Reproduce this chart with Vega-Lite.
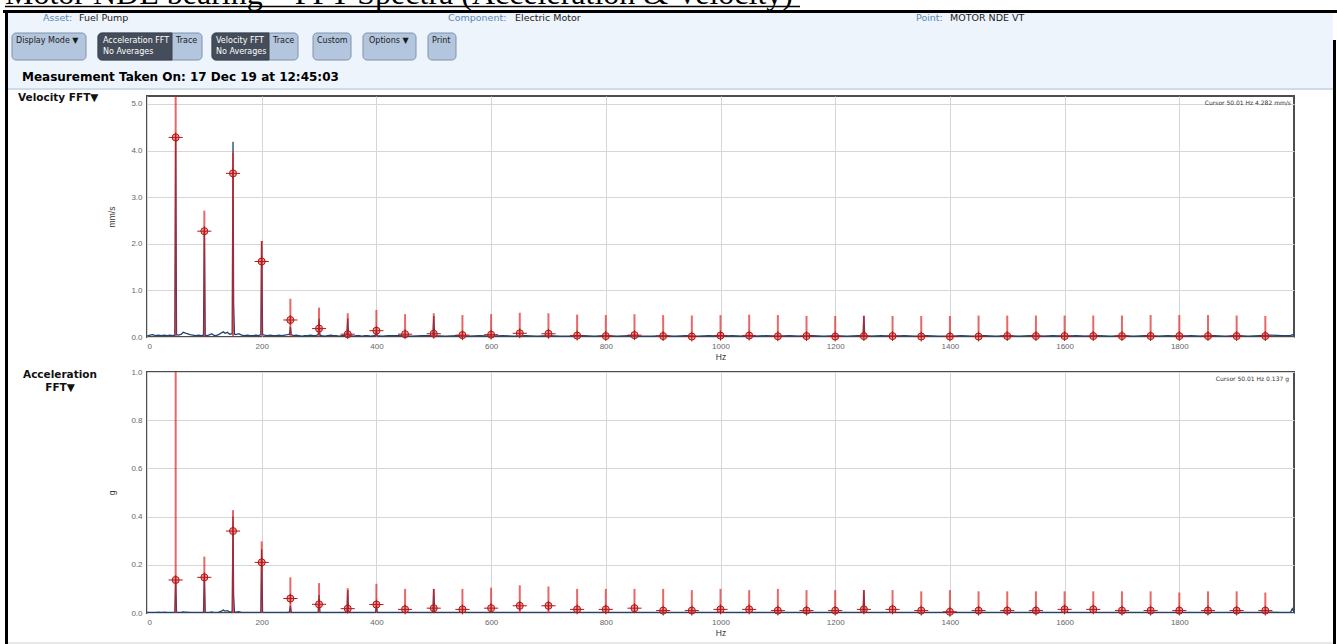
{
  "$schema": "https://vega.github.io/schema/vega-lite/v6.json",
  "autosize": {"type": "none"},
  "padding": {"left": 147, "top": 12, "right": 1190, "bottom": 632},
  "background": "white",
  "spacing": 35,
  "bounds": "flush",
  "datasets": {
    "spec": [
      {"f":0,"vel":0.02,"acc":0.002},{"f":5,"vel":0.04,"acc":0.003},{"f":10,"vel":0.05,"acc":0.003},{"f":15,"vel":0.03,"acc":0.002},{"f":20,"vel":0.04,"acc":0.003},{"f":25,"vel":0.03,"acc":0.002},{"f":30,"vel":0.04,"acc":0.003},{"f":35,"vel":0.03,"acc":0.002},{"f":40,"vel":0.04,"acc":0.003},{"f":45,"vel":0.03,"acc":0.003},{"f":48.5,"vel":0.04,"acc":0.004},{"f":50,"vel":4.282,"acc":0.137},{"f":51.5,"vel":0.05,"acc":0.004},{"f":55,"vel":0.04,"acc":0.003},{"f":60,"vel":0.06,"acc":0.004},{"f":63,"vel":0.1,"acc":0.005},{"f":66,"vel":0.09,"acc":0.004},{"f":70,"vel":0.07,"acc":0.004},{"f":75,"vel":0.05,"acc":0.003},{"f":80,"vel":0.04,"acc":0.003},{"f":85,"vel":0.03,"acc":0.002},{"f":90,"vel":0.04,"acc":0.003},{"f":95,"vel":0.03,"acc":0.003},{"f":98.5,"vel":0.04,"acc":0.003},{"f":100,"vel":2.27,"acc":0.148},{"f":101.5,"vel":0.04,"acc":0.003},{"f":105,"vel":0.03,"acc":0.003},{"f":110,"vel":0.05,"acc":0.004},{"f":113,"vel":0.07,"acc":0.005},{"f":116,"vel":0.04,"acc":0.003},{"f":120,"vel":0.03,"acc":0.003},{"f":125,"vel":0.05,"acc":0.004},{"f":130,"vel":0.09,"acc":0.008},{"f":133,"vel":0.11,"acc":0.012},{"f":136,"vel":0.08,"acc":0.008},{"f":140,"vel":0.1,"acc":0.01},{"f":144,"vel":0.06,"acc":0.005},{"f":148.5,"vel":0.07,"acc":0.006},{"f":150,"vel":4.19,"acc":0.4},{"f":151,"vel":0.75,"acc":0.075},{"f":152.5,"vel":0.06,"acc":0.005},{"f":155,"vel":0.05,"acc":0.004},{"f":160,"vel":0.07,"acc":0.006},{"f":165,"vel":0.04,"acc":0.003},{"f":170,"vel":0.03,"acc":0.003},{"f":175,"vel":0.04,"acc":0.003},{"f":180,"vel":0.03,"acc":0.002},{"f":185,"vel":0.03,"acc":0.003},{"f":190,"vel":0.04,"acc":0.003},{"f":195,"vel":0.03,"acc":0.003},{"f":198.5,"vel":0.05,"acc":0.004},{"f":200,"vel":2.06,"acc":0.265},{"f":201.5,"vel":0.05,"acc":0.004},{"f":205,"vel":0.04,"acc":0.003},{"f":210,"vel":0.03,"acc":0.003},{"f":215,"vel":0.04,"acc":0.003},{"f":220,"vel":0.03,"acc":0.002},{"f":225,"vel":0.03,"acc":0.003},{"f":230,"vel":0.04,"acc":0.003},{"f":235,"vel":0.03,"acc":0.003},{"f":240,"vel":0.04,"acc":0.003},{"f":245,"vel":0.05,"acc":0.004},{"f":248.5,"vel":0.06,"acc":0.005},{"f":250,"vel":0.22,"acc":0.03},{"f":251.5,"vel":0.05,"acc":0.004},{"f":255,"vel":0.03,"acc":0.003},{"f":260,"vel":0.04,"acc":0.003},{"f":265,"vel":0.03,"acc":0.003},{"f":270,"vel":0.02,"acc":0.002},{"f":275,"vel":0.03,"acc":0.003},{"f":280,"vel":0.03,"acc":0.003},{"f":285,"vel":0.04,"acc":0.003},{"f":290,"vel":0.03,"acc":0.003},{"f":295,"vel":0.03,"acc":0.003},{"f":298.5,"vel":0.05,"acc":0.004},{"f":300,"vel":0.39,"acc":0.075},{"f":301.5,"vel":0.04,"acc":0.004},{"f":305,"vel":0.03,"acc":0.003},{"f":310,"vel":0.02,"acc":0.002},{"f":315,"vel":0.03,"acc":0.003},{"f":320,"vel":0.04,"acc":0.003},{"f":325,"vel":0.03,"acc":0.002},{"f":330,"vel":0.03,"acc":0.003},{"f":335,"vel":0.02,"acc":0.003},{"f":340,"vel":0.03,"acc":0.003},{"f":345,"vel":0.03,"acc":0.003},{"f":348.5,"vel":0.05,"acc":0.004},{"f":350,"vel":0.4,"acc":0.095},{"f":351.5,"vel":0.04,"acc":0.004},{"f":355,"vel":0.03,"acc":0.003},{"f":360,"vel":0.02,"acc":0.002},{"f":365,"vel":0.03,"acc":0.003},{"f":370,"vel":0.03,"acc":0.003},{"f":375,"vel":0.02,"acc":0.002},{"f":380,"vel":0.03,"acc":0.003},{"f":385,"vel":0.03,"acc":0.003},{"f":390,"vel":0.02,"acc":0.002},{"f":395,"vel":0.03,"acc":0.003},{"f":398.5,"vel":0.04,"acc":0.004},{"f":400,"vel":0.13,"acc":0.03},{"f":401.5,"vel":0.03,"acc":0.003},{"f":410,"vel":0.02,"acc":0.002},{"f":420,"vel":0.03,"acc":0.003},
      {"f":440,"vel":0.03,"acc":0.003},{"f":460,"vel":0.02,"acc":0.002},{"f":480,"vel":0.03,"acc":0.003},{"f":498.5,"vel":0.03,"acc":0.003},{"f":500,"vel":0.45,"acc":0.1},{"f":501.5,"vel":0.03,"acc":0.003},{"f":520,"vel":0.02,"acc":0.002},{"f":540,"vel":0.03,"acc":0.003},{"f":560,"vel":0.02,"acc":0.003},{"f":580,"vel":0.03,"acc":0.002},{"f":600,"vel":0.02,"acc":0.003},{"f":620,"vel":0.03,"acc":0.003},{"f":640,"vel":0.02,"acc":0.002},{"f":660,"vel":0.03,"acc":0.003},{"f":680,"vel":0.02,"acc":0.003},{"f":700,"vel":0.03,"acc":0.002},{"f":720,"vel":0.02,"acc":0.003},{"f":740,"vel":0.02,"acc":0.003},{"f":760,"vel":0.03,"acc":0.002},{"f":780,"vel":0.02,"acc":0.003},{"f":800,"vel":0.03,"acc":0.003},{"f":820,"vel":0.02,"acc":0.002},{"f":840,"vel":0.03,"acc":0.003},{"f":860,"vel":0.02,"acc":0.003},{"f":880,"vel":0.02,"acc":0.002},{"f":900,"vel":0.03,"acc":0.003},{"f":920,"vel":0.02,"acc":0.003},{"f":940,"vel":0.03,"acc":0.002},{"f":960,"vel":0.02,"acc":0.003},{"f":980,"vel":0.03,"acc":0.003},{"f":1000,"vel":0.02,"acc":0.002},{"f":1020,"vel":0.03,"acc":0.003},{"f":1040,"vel":0.02,"acc":0.003},{"f":1060,"vel":0.02,"acc":0.002},{"f":1080,"vel":0.03,"acc":0.003},{"f":1100,"vel":0.02,"acc":0.003},{"f":1120,"vel":0.03,"acc":0.002},{"f":1140,"vel":0.02,"acc":0.003},{"f":1160,"vel":0.03,"acc":0.003},{"f":1180,"vel":0.02,"acc":0.002},{"f":1200,"vel":0.03,"acc":0.003},{"f":1220,"vel":0.02,"acc":0.003},{"f":1240,"vel":0.03,"acc":0.002},{"f":1248.5,"vel":0.03,"acc":0.003},{"f":1250,"vel":0.45,"acc":0.095},{"f":1251.5,"vel":0.03,"acc":0.003},{"f":1260,"vel":0.02,"acc":0.003},{"f":1280,"vel":0.03,"acc":0.002},{"f":1300,"vel":0.02,"acc":0.003},{"f":1320,"vel":0.03,"acc":0.003},{"f":1340,"vel":0.02,"acc":0.002},{"f":1360,"vel":0.03,"acc":0.003},{"f":1380,"vel":0.02,"acc":0.003},{"f":1400,"vel":0.02,"acc":0.002},{"f":1420,"vel":0.03,"acc":0.003},{"f":1440,"vel":0.02,"acc":0.003},{"f":1460,"vel":0.03,"acc":0.002},{"f":1480,"vel":0.02,"acc":0.003},{"f":1500,"vel":0.03,"acc":0.003},{"f":1520,"vel":0.02,"acc":0.002},{"f":1540,"vel":0.03,"acc":0.003},{"f":1560,"vel":0.02,"acc":0.003},{"f":1580,"vel":0.03,"acc":0.002},{"f":1600,"vel":0.02,"acc":0.003},{"f":1620,"vel":0.03,"acc":0.003},{"f":1640,"vel":0.02,"acc":0.002},{"f":1660,"vel":0.03,"acc":0.003},{"f":1680,"vel":0.02,"acc":0.003},{"f":1700,"vel":0.03,"acc":0.002},{"f":1720,"vel":0.02,"acc":0.003},{"f":1740,"vel":0.03,"acc":0.003},{"f":1760,"vel":0.02,"acc":0.002},{"f":1780,"vel":0.03,"acc":0.003},{"f":1800,"vel":0.02,"acc":0.003},{"f":1820,"vel":0.03,"acc":0.002},{"f":1840,"vel":0.02,"acc":0.003},{"f":1860,"vel":0.03,"acc":0.003},{"f":1880,"vel":0.02,"acc":0.002},{"f":1900,"vel":0.03,"acc":0.003},{"f":1920,"vel":0.02,"acc":0.003},{"f":1940,"vel":0.03,"acc":0.002},{"f":1960,"vel":0.04,"acc":0.004},{"f":1980,"vel":0.03,"acc":0.003},{"f":1994,"vel":0.03,"acc":0.003},{"f":1997,"vel":0.05,"acc":0.018},{"f":2000,"vel":0.03,"acc":0.003}
    ],
    "harm": [
      {"f":50,"vt":5.6,"vm":4.282,"at":1.2,"am":0.137},
      {"f":100,"vt":2.71,"vm":2.27,"at":0.234,"am":0.148},
      {"f":150,"vt":3.95,"vm":3.51,"at":0.427,"am":0.34},
      {"f":200,"vt":2.06,"vm":1.62,"at":0.297,"am":0.21},
      {"f":250,"vt":0.82,"vm":0.365,"at":0.148,"am":0.06},
      {"f":300,"vt":0.63,"vm":0.18,"at":0.124,"am":0.036},
      {"f":350,"vt":0.51,"vm":0.06,"at":0.103,"am":0.018},
      {"f":400,"vt":0.58,"vm":0.135,"at":0.121,"am":0.035},
      {"f":450,"vt":0.49,"vm":0.06,"at":0.1,"am":0.015},
      {"f":500,"vt":0.51,"vm":0.07,"at":0.1,"am":0.02},
      {"f":550,"vt":0.47,"vm":0.04,"at":0.1,"am":0.015},
      {"f":600,"vt":0.49,"vm":0.05,"at":0.105,"am":0.02},
      {"f":650,"vt":0.52,"vm":0.08,"at":0.115,"am":0.03},
      {"f":700,"vt":0.51,"vm":0.07,"at":0.11,"am":0.03},
      {"f":750,"vt":0.48,"vm":0.03,"at":0.1,"am":0.015},
      {"f":800,"vt":0.47,"vm":0.02,"at":0.1,"am":0.015},
      {"f":850,"vt":0.49,"vm":0.04,"at":0.1,"am":0.02},
      {"f":900,"vt":0.47,"vm":0.02,"at":0.1,"am":0.01},
      {"f":950,"vt":0.46,"vm":0.01,"at":0.095,"am":0.01},
      {"f":1000,"vt":0.47,"vm":0.03,"at":0.1,"am":0.015},
      {"f":1050,"vt":0.48,"vm":0.03,"at":0.095,"am":0.015},
      {"f":1100,"vt":0.47,"vm":0.015,"at":0.1,"am":0.01},
      {"f":1150,"vt":0.45,"vm":0.02,"at":0.095,"am":0.01},
      {"f":1200,"vt":0.45,"vm":0.01,"at":0.095,"am":0.01},
      {"f":1250,"vt":0.46,"vm":0.02,"at":0.095,"am":0.015},
      {"f":1300,"vt":0.45,"vm":0.02,"at":0.095,"am":0.015},
      {"f":1350,"vt":0.45,"vm":0.01,"at":0.09,"am":0.01},
      {"f":1400,"vt":0.45,"vm":0.01,"at":0.095,"am":0.005},
      {"f":1450,"vt":0.46,"vm":0.01,"at":0.09,"am":0.01},
      {"f":1500,"vt":0.46,"vm":0.02,"at":0.09,"am":0.01},
      {"f":1550,"vt":0.46,"vm":0.02,"at":0.09,"am":0.01},
      {"f":1600,"vt":0.46,"vm":0.02,"at":0.09,"am":0.015},
      {"f":1650,"vt":0.46,"vm":0.02,"at":0.09,"am":0.015},
      {"f":1700,"vt":0.46,"vm":0.02,"at":0.09,"am":0.01},
      {"f":1750,"vt":0.47,"vm":0.02,"at":0.09,"am":0.01},
      {"f":1800,"vt":0.47,"vm":0.02,"at":0.085,"am":0.01},
      {"f":1850,"vt":0.47,"vm":0.02,"at":0.09,"am":0.01},
      {"f":1900,"vt":0.46,"vm":0.02,"at":0.09,"am":0.01},
      {"f":1950,"vt":0.45,"vm":0.02,"at":0.085,"am":0.01}
    ]
  },
  "vconcat": [
    {
      "width": 1186,
      "height": 49,
      "view": {"stroke": null},
      "data": {"values": [{}]},
      "layer": [
        {"mark": {"type": "rect", "fill": "#edf4fc"}, "encoding": {"x": {"datum": -3, "type": "quantitative", "scale": {"domain": [136, 1322], "nice": false, "zero": false}, "axis": null}, "x2": {"datum": 1322}, "y": {"datum": 0, "type": "quantitative", "scale": {"domain": [0, 49], "nice": false, "zero": false, "reverse": true}, "axis": null}, "y2": {"datum": 76}}},
        {"mark": {"type": "rule", "color": "#cddcea", "strokeWidth": 2}, "encoding": {"x": {"datum": -3, "type": "quantitative", "axis": null}, "x2": {"datum": 1322}, "y": {"datum": 77, "type": "quantitative", "axis": null}}},
        {"mark": {"type": "rule", "color": "#d0d0d0", "strokeWidth": 1}, "encoding": {"x": {"datum": -3, "type": "quantitative", "axis": null}, "x2": {"datum": 1322}, "y": {"datum": 631, "type": "quantitative", "axis": null}}},
        {"mark": {"type": "rule", "color": "#000000", "strokeWidth": 3}, "encoding": {"x": {"datum": -8, "type": "quantitative", "axis": null}, "x2": {"datum": 1326}, "y": {"datum": -0.5, "type": "quantitative", "axis": null}}},
        {"mark": {"type": "rule", "color": "#000000", "strokeWidth": 3}, "encoding": {"x": {"datum": -4.5, "type": "quantitative", "axis": null}, "y": {"datum": -2, "type": "quantitative", "axis": null}, "y2": {"datum": 632}}},
        {"mark": {"type": "rule", "color": "#000000", "strokeWidth": 3}, "encoding": {"x": {"datum": 1323.5, "type": "quantitative", "axis": null}, "y": {"datum": 28, "type": "quantitative", "axis": null}, "y2": {"datum": 632}}},
        {"mark": {"type": "text", "text": "Motor NDE bearing \u2013 FFT Spectra (Acceleration & Velocity)", "font": "Liberation Serif", "fontSize": 32, "align": "left", "baseline": "alphabetic", "color": "#000000"}, "encoding": {"x": {"datum": -6, "type": "quantitative", "axis": null}, "y": {"datum": -8.5, "type": "quantitative", "axis": null}}},
        {"mark": {"type": "rule", "color": "#000000", "strokeWidth": 1.5}, "encoding": {"x": {"datum": -6, "type": "quantitative", "axis": null}, "x2": {"datum": 789}, "y": {"datum": -5.5, "type": "quantitative", "axis": null}}},
        {"mark": {"type": "rect", "fill": "#b3c6dd", "stroke": "#7f93ad", "strokeWidth": 1, "cornerRadius": 4}, "encoding": {"x": {"datum": 1, "type": "quantitative", "axis": null}, "x2": {"datum": 75}, "y": {"datum": 21, "type": "quantitative", "axis": null}, "y2": {"datum": 48}}},
        {"mark": {"type": "rect", "fill": "#b3c6dd", "stroke": "#7f93ad", "strokeWidth": 1, "cornerRadius": 4}, "encoding": {"x": {"datum": 87, "type": "quantitative", "axis": null}, "x2": {"datum": 191}, "y": {"datum": 21, "type": "quantitative", "axis": null}, "y2": {"datum": 48}}},
        {"mark": {"type": "rect", "fill": "#444d59", "stroke": "#3a424d", "strokeWidth": 1, "cornerRadiusTopLeft": 4, "cornerRadiusBottomLeft": 4}, "encoding": {"x": {"datum": 87, "type": "quantitative", "axis": null}, "x2": {"datum": 161}, "y": {"datum": 21, "type": "quantitative", "axis": null}, "y2": {"datum": 48}}},
        {"mark": {"type": "rect", "fill": "#b3c6dd", "stroke": "#7f93ad", "strokeWidth": 1, "cornerRadius": 4}, "encoding": {"x": {"datum": 201, "type": "quantitative", "axis": null}, "x2": {"datum": 287}, "y": {"datum": 21, "type": "quantitative", "axis": null}, "y2": {"datum": 48}}},
        {"mark": {"type": "rect", "fill": "#444d59", "stroke": "#3a424d", "strokeWidth": 1, "cornerRadiusTopLeft": 4, "cornerRadiusBottomLeft": 4}, "encoding": {"x": {"datum": 201, "type": "quantitative", "axis": null}, "x2": {"datum": 258}, "y": {"datum": 21, "type": "quantitative", "axis": null}, "y2": {"datum": 48}}},
        {"mark": {"type": "rect", "fill": "#b3c6dd", "stroke": "#7f93ad", "strokeWidth": 1, "cornerRadius": 4}, "encoding": {"x": {"datum": 302, "type": "quantitative", "axis": null}, "x2": {"datum": 340}, "y": {"datum": 21, "type": "quantitative", "axis": null}, "y2": {"datum": 48}}},
        {"mark": {"type": "rect", "fill": "#b3c6dd", "stroke": "#7f93ad", "strokeWidth": 1, "cornerRadius": 4}, "encoding": {"x": {"datum": 352, "type": "quantitative", "axis": null}, "x2": {"datum": 405}, "y": {"datum": 21, "type": "quantitative", "axis": null}, "y2": {"datum": 48}}},
        {"mark": {"type": "rect", "fill": "#b3c6dd", "stroke": "#7f93ad", "strokeWidth": 1, "cornerRadius": 4}, "encoding": {"x": {"datum": 417, "type": "quantitative", "axis": null}, "x2": {"datum": 445}, "y": {"datum": 21, "type": "quantitative", "axis": null}, "y2": {"datum": 48}}},
        {"mark": {"type": "text", "text": "Display Mode \u25bc", "font": "DejaVu Sans", "fontSize": 8, "align": "left", "baseline": "middle", "color": "#1a1a1a"}, "encoding": {"x": {"datum": 5, "type": "quantitative", "axis": null}, "y": {"datum": 29, "type": "quantitative", "axis": null}}},
        {"mark": {"type": "text", "text": "Acceleration FFT", "font": "DejaVu Sans", "fontSize": 8, "align": "left", "baseline": "middle", "color": "#ffffff"}, "encoding": {"x": {"datum": 92, "type": "quantitative", "axis": null}, "y": {"datum": 29, "type": "quantitative", "axis": null}}},
        {"mark": {"type": "text", "text": "No Averages", "font": "DejaVu Sans", "fontSize": 8, "align": "left", "baseline": "middle", "color": "#ffffff"}, "encoding": {"x": {"datum": 92, "type": "quantitative", "axis": null}, "y": {"datum": 40, "type": "quantitative", "axis": null}}},
        {"mark": {"type": "text", "text": "Trace", "font": "DejaVu Sans", "fontSize": 8, "align": "left", "baseline": "middle", "color": "#1a1a1a"}, "encoding": {"x": {"datum": 165, "type": "quantitative", "axis": null}, "y": {"datum": 29, "type": "quantitative", "axis": null}}},
        {"mark": {"type": "text", "text": "Velocity FFT", "font": "DejaVu Sans", "fontSize": 8, "align": "left", "baseline": "middle", "color": "#ffffff"}, "encoding": {"x": {"datum": 205, "type": "quantitative", "axis": null}, "y": {"datum": 29, "type": "quantitative", "axis": null}}},
        {"mark": {"type": "text", "text": "No Averages", "font": "DejaVu Sans", "fontSize": 8, "align": "left", "baseline": "middle", "color": "#ffffff"}, "encoding": {"x": {"datum": 205, "type": "quantitative", "axis": null}, "y": {"datum": 40, "type": "quantitative", "axis": null}}},
        {"mark": {"type": "text", "text": "Trace", "font": "DejaVu Sans", "fontSize": 8, "align": "left", "baseline": "middle", "color": "#1a1a1a"}, "encoding": {"x": {"datum": 262, "type": "quantitative", "axis": null}, "y": {"datum": 29, "type": "quantitative", "axis": null}}},
        {"mark": {"type": "text", "text": "Custom", "font": "DejaVu Sans", "fontSize": 8, "align": "left", "baseline": "middle", "color": "#1a1a1a"}, "encoding": {"x": {"datum": 306, "type": "quantitative", "axis": null}, "y": {"datum": 29, "type": "quantitative", "axis": null}}},
        {"mark": {"type": "text", "text": "Options \u25bc", "font": "DejaVu Sans", "fontSize": 8, "align": "left", "baseline": "middle", "color": "#1a1a1a"}, "encoding": {"x": {"datum": 358, "type": "quantitative", "axis": null}, "y": {"datum": 29, "type": "quantitative", "axis": null}}},
        {"mark": {"type": "text", "text": "Print", "font": "DejaVu Sans", "fontSize": 8, "align": "left", "baseline": "middle", "color": "#1a1a1a"}, "encoding": {"x": {"datum": 421, "type": "quantitative", "axis": null}, "y": {"datum": 29, "type": "quantitative", "axis": null}}},
        {"mark": {"type": "text", "text": "Asset:", "font": "DejaVu Sans", "fontSize": 9.5, "align": "left", "baseline": "middle", "color": "#5a87b8"}, "encoding": {"x": {"datum": 32, "type": "quantitative", "axis": null}, "y": {"datum": 6, "type": "quantitative", "axis": null}}},
        {"mark": {"type": "text", "text": "Fuel Pump", "font": "DejaVu Sans", "fontSize": 9.5, "align": "left", "baseline": "middle", "color": "#1a1a1a"}, "encoding": {"x": {"datum": 68, "type": "quantitative", "axis": null}, "y": {"datum": 6, "type": "quantitative", "axis": null}}},
        {"mark": {"type": "text", "text": "Component:", "font": "DejaVu Sans", "fontSize": 9.5, "align": "left", "baseline": "middle", "color": "#5a87b8"}, "encoding": {"x": {"datum": 437, "type": "quantitative", "axis": null}, "y": {"datum": 6, "type": "quantitative", "axis": null}}},
        {"mark": {"type": "text", "text": "Electric Motor", "font": "DejaVu Sans", "fontSize": 9.5, "align": "left", "baseline": "middle", "color": "#1a1a1a"}, "encoding": {"x": {"datum": 504, "type": "quantitative", "axis": null}, "y": {"datum": 6, "type": "quantitative", "axis": null}}},
        {"mark": {"type": "text", "text": "Point:", "font": "DejaVu Sans", "fontSize": 9.5, "align": "left", "baseline": "middle", "color": "#5a87b8"}, "encoding": {"x": {"datum": 905, "type": "quantitative", "axis": null}, "y": {"datum": 6, "type": "quantitative", "axis": null}}},
        {"mark": {"type": "text", "text": "MOTOR NDE VT", "font": "DejaVu Sans", "fontSize": 9.5, "align": "left", "baseline": "middle", "color": "#1a1a1a"}, "encoding": {"x": {"datum": 939, "type": "quantitative", "axis": null}, "y": {"datum": 6, "type": "quantitative", "axis": null}}},
        {"mark": {"type": "text", "text": "Measurement Taken On: 17 Dec 19 at 12:45:03", "font": "DejaVu Sans", "fontSize": 12, "fontWeight": "bold", "align": "left", "baseline": "middle", "color": "#000000"}, "encoding": {"x": {"datum": 11, "type": "quantitative", "axis": null}, "y": {"datum": 65, "type": "quantitative", "axis": null}}}
      ]
    },
    {
      "width": 1147,
      "height": 241,
      "title": {"text": "Velocity FFT\u25bc", "anchor": "start", "frame": "group", "align": "left", "baseline": "middle", "offset": 0, "dx": -129, "dy": 12, "font": "DejaVu Sans", "fontSize": 10.5, "fontWeight": "bold", "color": "#111111"},
      "layer": [
        {"data": {"name": "spec"}, "mark": {"type": "line", "color": "#24426f", "strokeWidth": 1.3, "clip": true},
         "encoding": {
           "x": {"field": "f", "type": "quantitative", "scale": {"domain": [0, 2000], "nice": false, "zero": false}, "axis": {"values": [0,200,400,600,800,1000,1200,1400,1600,1800], "format": "d", "title": "Hz", "grid": true}},
           "y": {"field": "vel", "type": "quantitative", "scale": {"domain": [0, 5.17], "nice": false}, "axis": {"values": [0,1,2,3,4,5], "format": ".1f", "title": "mm/s", "grid": true}}}},
        {"data": {"name": "harm"}, "mark": {"type": "rule", "color": "#e01f1f", "opacity": 0.68, "strokeWidth": 2, "clip": true},
         "encoding": {"x": {"field": "f", "type": "quantitative"}, "y": {"field": "vt", "type": "quantitative"}, "y2": {"datum": 0}}},
        {"data": {"name": "harm"}, "mark": {"type": "point", "shape": "circle", "size": 50, "filled": true, "fill": "#e84545", "fillOpacity": 0.55, "stroke": "#b01818", "strokeWidth": 1, "opacity": 1},
         "encoding": {"x": {"field": "f", "type": "quantitative"}, "y": {"field": "vm", "type": "quantitative"}}},
        {"data": {"name": "harm"}, "mark": {"type": "point", "shape": "M-1,0H1M0,-0.7V0.7", "size": 200, "filled": false, "stroke": "#b01818", "strokeWidth": 1, "opacity": 1},
         "encoding": {"x": {"field": "f", "type": "quantitative"}, "y": {"field": "vm", "type": "quantitative"}}},
        {"data": {"values": [{}]}, "mark": {"type": "text", "text": "Cursor 50.01 Hz 4.282 mm/s", "align": "right", "baseline": "middle", "fontSize": 6, "font": "DejaVu Sans", "color": "#333333", "dx": -3, "dy": 7},
         "encoding": {"x": {"datum": 2000, "type": "quantitative"}, "y": {"datum": 5.17, "type": "quantitative"}}}
      ]
    },
    {
      "width": 1147,
      "height": 241,
      "title": {"text": ["Acceleration", "FFT\u25bc"], "anchor": "start", "frame": "group", "align": "center", "baseline": "middle", "offset": 0, "dx": -87, "dy": 30, "lineHeight": 13, "font": "DejaVu Sans", "fontSize": 10.5, "fontWeight": "bold", "color": "#111111"},
      "layer": [
        {"data": {"name": "spec"}, "mark": {"type": "line", "color": "#24426f", "strokeWidth": 1.3, "clip": true},
         "encoding": {
           "x": {"field": "f", "type": "quantitative", "scale": {"domain": [0, 2000], "nice": false, "zero": false}, "axis": {"values": [0,200,400,600,800,1000,1200,1400,1600,1800], "format": "d", "title": "Hz", "grid": true}},
           "y": {"field": "acc", "type": "quantitative", "scale": {"domain": [0, 1], "nice": false}, "axis": {"values": [0,0.2,0.4,0.6,0.8,1], "format": ".1f", "title": "g", "grid": true}}}},
        {"data": {"name": "harm"}, "mark": {"type": "rule", "color": "#e01f1f", "opacity": 0.68, "strokeWidth": 2, "clip": true},
         "encoding": {"x": {"field": "f", "type": "quantitative"}, "y": {"field": "at", "type": "quantitative"}, "y2": {"datum": 0}}},
        {"data": {"name": "harm"}, "mark": {"type": "point", "shape": "circle", "size": 50, "filled": true, "fill": "#e84545", "fillOpacity": 0.55, "stroke": "#b01818", "strokeWidth": 1, "opacity": 1},
         "encoding": {"x": {"field": "f", "type": "quantitative"}, "y": {"field": "am", "type": "quantitative"}}},
        {"data": {"name": "harm"}, "mark": {"type": "point", "shape": "M-1,0H1M0,-0.7V0.7", "size": 200, "filled": false, "stroke": "#b01818", "strokeWidth": 1, "opacity": 1},
         "encoding": {"x": {"field": "f", "type": "quantitative"}, "y": {"field": "am", "type": "quantitative"}}},
        {"data": {"values": [{}]}, "mark": {"type": "text", "text": "Cursor 50.01 Hz 0.137 g", "align": "right", "baseline": "middle", "fontSize": 6, "font": "DejaVu Sans", "color": "#333333", "dx": -5, "dy": 7},
         "encoding": {"x": {"datum": 2000, "type": "quantitative"}, "y": {"datum": 1, "type": "quantitative"}}}
      ]
    }
  ],
  "config": {
    "view": {"stroke": "#4d4d4d", "strokeWidth": 2},
    "axis": {"labelFont": "Liberation Sans", "labelFontSize": 8, "labelColor": "#666666", "titleFont": "Liberation Sans", "titleFontSize": 8.5, "titleFontWeight": "normal", "titleColor": "#333333", "tickSize": 0, "ticks": false, "domain": false, "gridColor": "#d6d6d6", "gridWidth": 1, "labelPadding": 5},
    "axisX": {"titlePadding": 2},
    "axisY": {"titlePadding": 14}
  }
}
